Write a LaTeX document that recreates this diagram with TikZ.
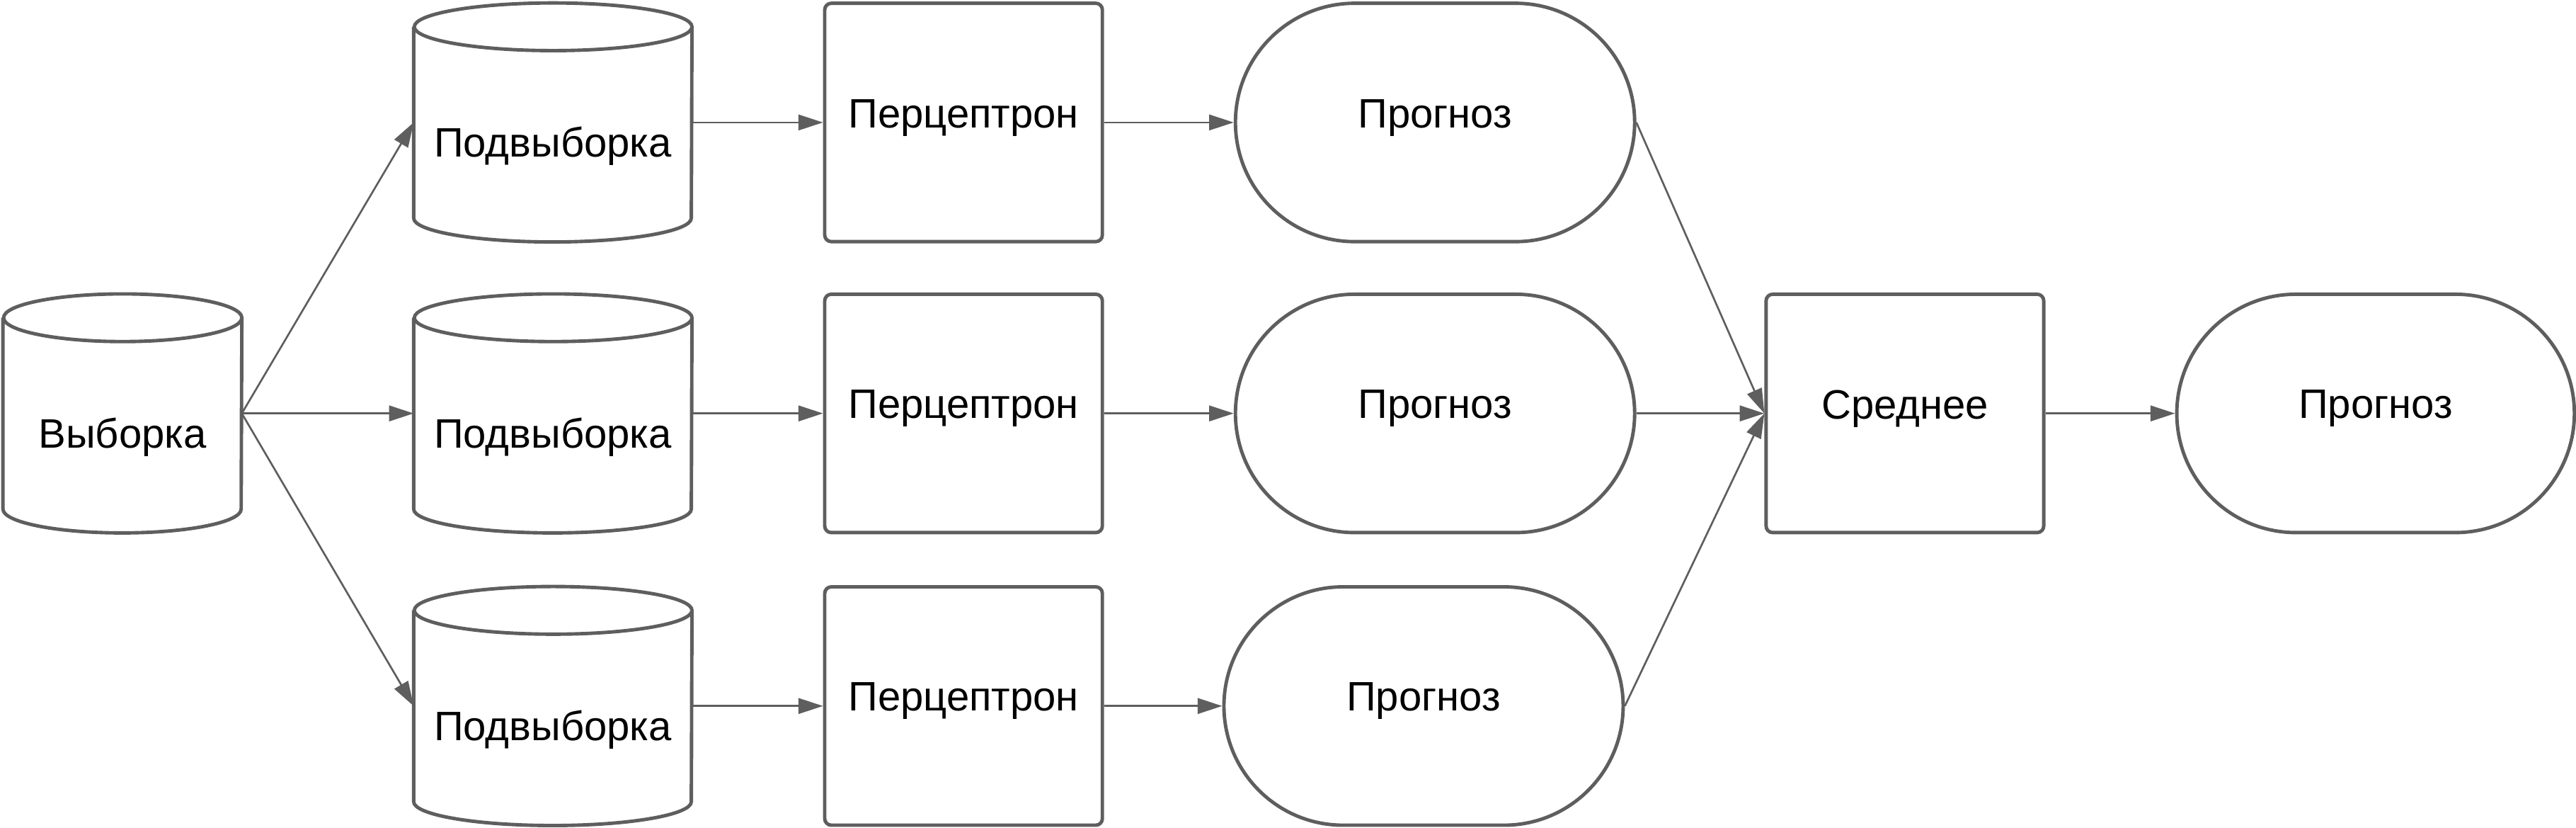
\documentclass[tikz,border=0pt]{standalone}
\usepackage{fontspec}
\setmainfont{Liberation Sans}
\usetikzlibrary{arrows.meta,shapes.misc}
\definecolor{edge}{HTML}{5E5E5E}
\begin{document}
\begin{tikzpicture}[x=1pt,y=1pt,
  txt/.style={font=\fontsize{25}{30}\selectfont, text=black},
  box/.style={txt, draw=edge, line width=2.1pt, rounded corners=4pt, minimum width=169pt, minimum height=145pt, inner sep=0pt, text depth=11pt},
  pill/.style={txt, rounded rectangle, draw=edge, line width=2.1pt, minimum width=243pt, minimum height=145pt, inner sep=0pt, text depth=11pt},
  cylnode/.style={minimum height=145pt, inner sep=0pt},
  cylline/.style={draw=edge, line width=2.1pt, fill=white},
  link/.style={draw=edge, line width=1.15pt, -{Triangle[length=15pt,width=9.5pt]}}]
\useasboundingbox (0,0) rectangle (1568,503.3);

% cylinder nodes
\node[cylnode, minimum width=145pt] (V) at (74.5,251.8) {};
\node[cylnode, minimum width=169pt] (S1) at (336.5,428.8) {};
\node[cylnode, minimum width=169pt] (S2) at (336.5,251.8) {};
\node[cylnode, minimum width=169pt] (S3) at (336.5,73.8) {};

\foreach \c/\rx/\t in {V/72.5/Выборка, S1/84.5/Подвыборка, S2/84.5/Подвыборка, S3/84.5/Подвыборка}{
  \draw[cylline] ([yshift=-14.5pt]\c.north west) -- ([yshift=14.5pt]\c.south west)
     arc[start angle=180, end angle=360, x radius=\rx pt, y radius=14.5pt]
     -- ([yshift=-14.5pt]\c.north east)
     arc[start angle=0, end angle=360, x radius=\rx pt, y radius=14.5pt];
  \node[txt] (\c t) at ([yshift=-14.5pt]\c.center) {\t};
}

% perceptrons
\node[box] (P1) at (586.5,428.8) {Перцептрон};
\node[box] (P2) at (586.5,251.8) {Перцептрон};
\node[box] (P3) at (586.5,73.8) {Перцептрон};

% forecasts
\node[pill] (F1) at (873.5,428.8) {Прогноз};
\node[pill] (F2) at (873.5,251.8) {Прогноз};
\node[pill] (F3) at (866.5,73.8) {Прогноз};

% average and result
\node[box] (A) at (1159.5,251.8) {Среднее};
\node[pill, minimum width=242pt] (R) at (1446,251.8) {Прогноз};

% connectors
\draw[link] (V.east) -- (S1.west);
\draw[link] (V.east) -- (S2.west);
\draw[link] (V.east) -- (S3.west);
\foreach \i in {1,2,3}{
  \draw[link] (S\i.east) -- (P\i.west);
  \draw[link] (P\i.east) -- (F\i.west);
  \draw[link] (F\i.east) -- (A.west);
}
\draw[link] (A.east) -- (R.west);
\end{tikzpicture}
\end{document}
